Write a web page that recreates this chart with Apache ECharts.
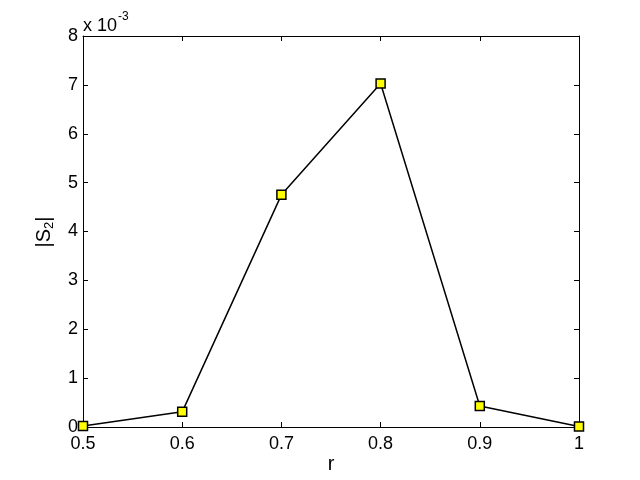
<!DOCTYPE html>
<html><head><meta charset="utf-8">
<script src="https://cdn.jsdelivr.net/npm/echarts@6/dist/echarts.min.js"></script>
<style>html,body{margin:0;padding:0;background:#fff}#c{width:640px;height:480px}</style>
</head><body><div id="c"></div>
<script>
const rValues = [0.5, 0.6, 0.7, 0.8, 0.9, 1.0];
const s2Values = [0.00002, 0.00031, 0.00475, 0.00703, 0.00043, 0.00001];
const yTickLabels = ['0','1','2','3','4','5','6','7','8'];
const xTickLabels = ['0.5','0.6','0.7','0.8','0.9','1'];

const FONT = 'Liberation Sans, Arial, sans-serif';
const chart = echarts.init(document.getElementById('c'), null, {renderer: 'canvas'});
const axisCommon = {
  axisLine: {show: true, onZero: false, lineStyle: {color: '#000', width: 1}},
  axisTick: {show: true, inside: true, length: 5, lineStyle: {color: '#000'}},
  splitLine: {show: false}
};
chart.setOption({
  animation: false,
  backgroundColor: '#fff',
  grid: {left: 83, right: 61, top: 36, bottom: 53, containLabel: false},
  xAxis: [
    Object.assign({type: 'value', min: 0.5, max: 1.0, interval: 0.1, position: 'bottom',
      axisLabel: {color: '#000', fontFamily: FONT, fontSize: 18, margin: 8,
        formatter: v => xTickLabels[Math.round((v - 0.5) * 10)]}}, axisCommon),
    Object.assign({type: 'value', min: 0.5, max: 1.0, interval: 0.1, position: 'top',
      axisLabel: {show: false}}, axisCommon)
  ],
  yAxis: [
    Object.assign({type: 'value', min: 0, max: 0.008, interval: 0.001, position: 'left',
      axisLabel: {color: '#000', fontFamily: FONT, fontSize: 18, margin: 5,
        formatter: v => yTickLabels[Math.round(v * 1000)]}}, axisCommon),
    Object.assign({type: 'value', min: 0, max: 0.008, interval: 0.001, position: 'right',
      axisLabel: {show: false}}, axisCommon)
  ],
  series: [{
    type: 'line',
    data: rValues.map((r, i) => [r, s2Values[i]]),
    symbol: 'rect', symbolSize: 9,
    itemStyle: {color: '#ffff00', borderColor: '#000', borderWidth: 1.5},
    lineStyle: {color: '#000', width: 1.5},
    z: 5
  }],
  graphic: [
    {type: 'text', x: 83, y: 35, style: {
      text: 'x 10', fill: '#000', font: '18px ' + FONT, verticalAlign: 'bottom'}},
    {type: 'text', x: 118, y: 23, style: {
      text: '-3', fill: '#000', font: '12px ' + FONT, verticalAlign: 'bottom'}},
    {type: 'text', x: 44, y: 232, rotation: Math.PI / 2, style: {
      text: '|S{sub|2}|', fill: '#000', font: '20px ' + FONT, align: 'center', verticalAlign: 'middle',
      rich: {sub: {fontSize: 13, fontFamily: FONT, padding: [10,0,0,0], fill: '#000'}}}},
    {type: 'text', x: 331, y: 464, style: {
      text: 'r', fill: '#000', font: '20px ' + FONT, align: 'center', verticalAlign: 'middle'}}
  ]
});
</script></body></html>
